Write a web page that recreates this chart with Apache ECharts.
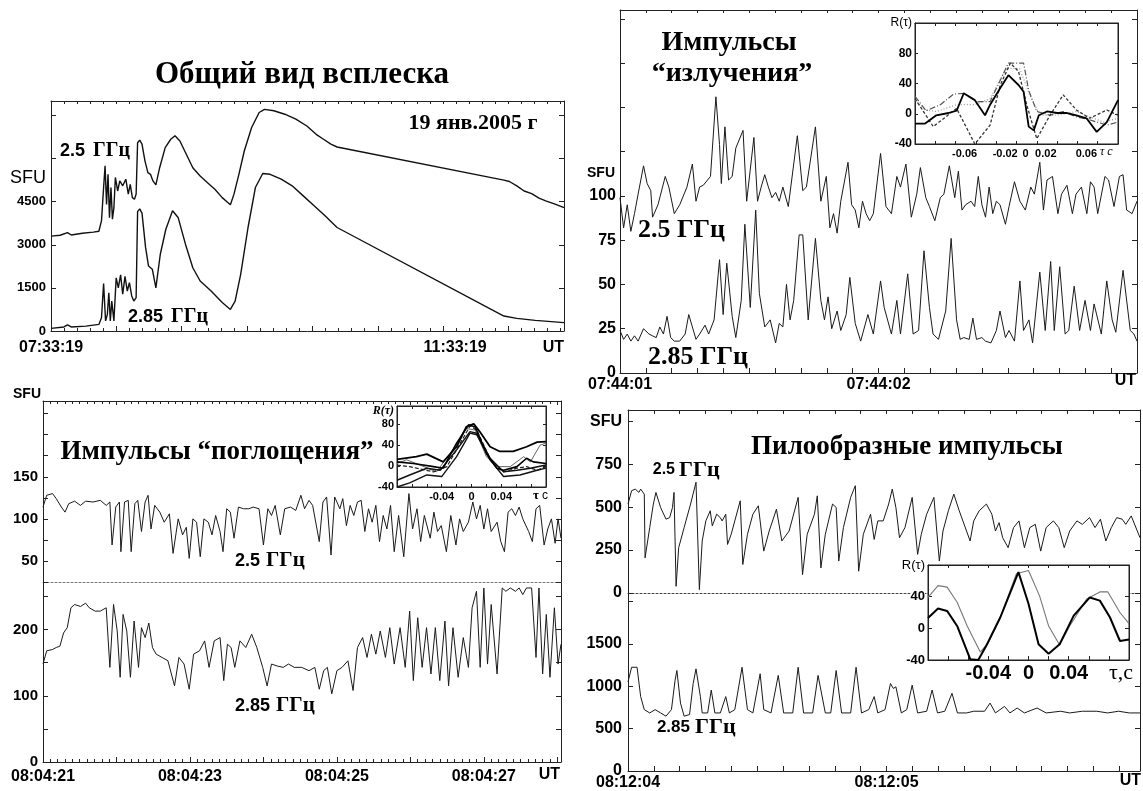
<!DOCTYPE html>
<html>
<head>
<meta charset="utf-8">
<title>Всплеск 19 янв. 2005</title>
<script src="https://cdn.jsdelivr.net/npm/echarts@6/dist/echarts.min.js"></script>
<style>
  html, body { margin: 0; padding: 0; background: #fff; }
  #main { width: 1143px; height: 791px; }
</style>
</head>
<body>
<div id="main"></div>
<script>
// ---- panel 1: general view, minutes after 07:33:19, SFU ----
const burst25 = [[0,3300],[5.6,3330],[10.1,3420],[12.4,3340],[19.2,3400],[25.9,3440],[29.3,3470],[30.9,3830],[32.2,4990],[33.1,5750],[34.0,4400],[34.9,5450],[35.8,3940],[36.7,4990],[37.6,3890],[38.5,4290],[39.4,5340],[40.8,4870],[42.1,5220],[43.9,5050],[45.8,5280],[47.3,4760],[48.5,5100],[49.8,4640],[51.1,4580],[52.1,4760],[53.0,6550],[54.3,6640],[55.7,6500],[57.5,5920],[59.3,5510],[60.9,5450],[62.4,5220],[64.2,5080],[66.5,5680],[69.9,6380],[73.3,6670],[75.9,6790],[78.9,6610],[82.3,6210],[86.8,5680],[91.3,5390],[95.8,5160],[100.3,4930],[104.8,4640],[108.2,4470],[109.8,4390],[112.0,4760],[115.0,5450],[118.3,6260],[122.8,7080],[127.4,7600],[130.7,7710],[136.4,7660],[143.1,7540],[149.9,7370],[156.6,7130],[162.3,6840],[166.8,6670],[171.3,6500],[175.1,6400],[277.2,5250],[280.6,5200],[285.1,5050],[289.6,4870],[294.2,4780],[298.7,4620],[303.2,4520],[307.7,4430],[314.0,4290]];
const burst285 = [[0,90],[7.9,140],[10.1,210],[12.4,140],[21.4,170],[29.3,230],[30.9,460],[32.2,1650],[33.4,350],[34.5,580],[35.4,1330],[36.3,350],[37.2,1040],[38.5,350],[39.9,1850],[41.2,1500],[42.6,1950],[43.9,1280],[45.3,1900],[46.7,1390],[48.0,1680],[49.4,1220],[50.7,1040],[52.1,1160],[53.0,4150],[54.3,4250],[55.7,4100],[57.9,2900],[59.7,2260],[62.0,2150],[64.2,1500],[66.9,2670],[70.3,3540],[74.4,4180],[77.8,3950],[82.3,3020],[86.8,2200],[91.3,1740],[98.0,1390],[104.8,990],[109.8,750],[112.7,1040],[116.1,1970],[120.6,3600],[125.1,4990],[129.6,5480],[134.1,5450],[140.9,5280],[147.6,5050],[154.4,4700],[161.2,4350],[167.9,4000],[175.1,3600],[277.2,520],[285.1,440],[296.4,370],[314.0,290]];
const burstTimeTicks = [[0,'07:33:19'],[240,'{s|11:33:19}']];
const burstFluxTicks = [[0,'0'],[1500,'1500'],[3000,'3000'],[4500,'4500']];

// ---- panel 2: emission pulses, seconds after 07:44:01 ----
const emission25 = [[0,99],[0.014,82],[0.028,95],[0.042,80],[0.056,90],[0.070,101],[0.091,117],[0.105,107],[0.119,103],[0.126,88],[0.147,95],[0.175,111],[0.189,105],[0.210,90],[0.231,95],[0.259,105],[0.280,118],[0.294,97],[0.308,105],[0.322,106],[0.350,111],[0.371,156],[0.385,129],[0.392,107],[0.406,139],[0.420,109],[0.434,111],[0.448,127],[0.476,137],[0.490,97],[0.518,133],[0.532,97],[0.546,105],[0.560,112],[0.574,105],[0.588,99],[0.602,102],[0.616,97],[0.630,105],[0.651,94],[0.686,134],[0.707,103],[0.721,105],[0.756,139],[0.777,97],[0.798,111],[0.812,82],[0.826,90],[0.840,79],[0.854,97],[0.882,119],[0.896,95],[0.910,92],[0.924,82],[0.938,97],[0.952,90],[0.966,86],[0.980,90],[1.008,124],[1.029,94],[1.050,90],[1.071,111],[1.085,105],[1.106,118],[1.127,88],[1.148,101],[1.162,116],[1.183,99],[1.197,94],[1.218,86],[1.239,99],[1.253,101],[1.274,117],[1.295,99],[1.309,114],[1.323,92],[1.337,95],[1.358,97],[1.372,94],[1.386,111],[1.400,95],[1.414,88],[1.428,105],[1.442,90],[1.456,97],[1.470,95],[1.491,84],[1.505,94],[1.526,108],[1.547,97],[1.568,92],[1.589,105],[1.603,101],[1.624,119],[1.638,92],[1.652,109],[1.673,111],[1.694,90],[1.708,101],[1.729,106],[1.750,90],[1.764,101],[1.785,105],[1.806,90],[1.820,108],[1.834,105],[1.848,90],[1.876,111],[1.890,109],[1.911,94],[1.932,111],[1.946,112],[1.960,92],[1.981,90],[2.000,97]];
const emission285 = [[0,24],[0.014,19],[0.028,22],[0.042,18],[0.056,21],[0.070,18],[0.091,25],[0.112,22],[0.126,21],[0.140,20],[0.154,26],[0.168,22],[0.182,32],[0.196,20],[0.210,18],[0.231,18],[0.252,22],[0.266,33],[0.280,26],[0.294,19],[0.308,22],[0.329,27],[0.343,22],[0.364,30],[0.385,64],[0.399,33],[0.413,62],[0.434,32],[0.448,20],[0.469,41],[0.483,84],[0.504,37],[0.525,92],[0.539,45],[0.560,26],[0.581,30],[0.602,17],[0.616,28],[0.630,26],[0.644,50],[0.658,30],[0.672,41],[0.693,78],[0.707,78],[0.728,30],[0.756,76],[0.777,41],[0.791,30],[0.805,43],[0.819,25],[0.840,35],[0.854,24],[0.875,33],[0.889,54],[0.910,28],[0.931,18],[0.959,33],[0.980,22],[1.008,52],[1.022,37],[1.050,22],[1.071,41],[1.085,22],[1.113,56],[1.134,22],[1.155,24],[1.176,69],[1.197,37],[1.211,22],[1.232,19],[1.260,35],[1.281,76],[1.302,30],[1.316,19],[1.330,20],[1.351,19],[1.365,31],[1.379,19],[1.400,20],[1.414,18],[1.435,17],[1.456,24],[1.470,35],[1.491,20],[1.505,24],[1.526,18],[1.547,52],[1.561,24],[1.582,30],[1.596,17],[1.624,57],[1.645,24],[1.666,63],[1.680,24],[1.701,60],[1.722,22],[1.736,24],[1.757,49],[1.778,24],[1.799,41],[1.820,24],[1.834,39],[1.862,22],[1.883,52],[1.904,30],[1.918,23],[1.946,58],[1.974,24],[1.988,22],[2.000,18]];
const emissionTimeTicks = [[0,'07:44:01'],[1,'07:44:02']];
const emissionFluxTicks = [[0,'0'],[25,'25'],[50,'50'],[75,'75'],[100,'100']];
// inset: correlation R(tau), tau in s
const emissionCorrSolid = [[-0.100,-13],[-0.090,-13],[-0.079,-2],[-0.067,1],[-0.059,4],[-0.052,27],[-0.041,18],[-0.031,-2],[-0.026,12],[-0.016,34],[-0.008,51],[0.002,38],[0.007,29],[0.012,-17],[0.017,-22],[0.022,-2],[0.030,3],[0.040,1],[0.049,1],[0.059,-2],[0.069,-6],[0.079,-24],[0.089,-11],[0.100,18]];
const emissionCorrDashed = [[-0.100,20],[-0.082,-17],[-0.059,7],[-0.041,-40],[-0.026,-15],[-0.016,38],[-0.006,67],[0.002,56],[0.010,12],[0.020,-33],[0.033,-2],[0.046,25],[0.059,5],[0.072,-6],[0.089,5],[0.100,-2]];
const emissionCorrDashDot = [[-0.100,23],[-0.089,4],[-0.075,12],[-0.062,26],[-0.052,27],[-0.039,16],[-0.026,16],[-0.008,67],[0.007,67],[0.012,31],[0.020,3],[0.033,-2],[0.046,3],[0.059,-4],[0.072,-8],[0.089,-15],[0.100,-11]];
const emissionCorrDotted = [[-0.100,18],[-0.090,5],[-0.079,3],[-0.059,12],[-0.041,12],[-0.026,20],[-0.010,60],[0.003,60],[0.013,25],[0.023,-2],[0.040,-2],[0.059,3],[0.072,-4],[0.086,-11],[0.100,-6]];
const emissionLagTicks = [[-0.06,'{s|-0.06}'],[-0.02,'{s|-0.02}'],[0,'{s|0}'],[0.02,'{s|0.02}'],[0.06,'{s|0.06}']];
const emissionCorrTicks = [[-40,'-40'],[0,'0'],[40,'40'],[80,'80'],[120,'{r|R(τ)}']];

// ---- panel 3: absorption pulses, seconds after 08:04:21 ----
const absorption25 = [[0.00,114],[0.05,128],[0.13,130],[0.18,124],[0.25,114],[0.30,108],[0.35,118],[0.43,121],[0.51,116],[0.58,121],[0.68,120],[0.78,122],[0.86,116],[0.91,120],[0.94,69],[0.99,114],[1.04,120],[1.06,61],[1.11,120],[1.16,122],[1.20,61],[1.25,118],[1.29,122],[1.34,85],[1.39,120],[1.43,128],[1.47,88],[1.52,116],[1.59,108],[1.65,96],[1.72,106],[1.77,59],[1.84,100],[1.90,81],[1.95,90],[1.99,53],[2.04,100],[2.09,96],[2.14,55],[2.19,100],[2.25,96],[2.30,81],[2.35,104],[2.41,85],[2.45,61],[2.50,112],[2.55,108],[2.60,77],[2.66,114],[2.73,112],[2.80,112],[2.86,114],[2.94,112],[3.00,69],[3.06,112],[3.11,104],[3.16,116],[3.23,81],[3.29,112],[3.37,114],[3.44,110],[3.51,128],[3.56,112],[3.62,122],[3.67,116],[3.76,73],[3.81,120],[3.86,126],[3.92,57],[3.97,126],[4.04,112],[4.08,124],[4.13,92],[4.18,116],[4.23,104],[4.28,120],[4.33,122],[4.38,85],[4.43,112],[4.48,96],[4.53,116],[4.58,73],[4.63,104],[4.68,88],[4.73,116],[4.78,61],[4.84,104],[4.91,55],[4.98,130],[5.03,88],[5.09,112],[5.14,73],[5.19,104],[5.27,77],[5.32,108],[5.37,85],[5.42,92],[5.49,61],[5.55,104],[5.62,69],[5.67,100],[5.72,85],[5.79,96],[5.85,120],[5.90,100],[5.95,116],[6.00,88],[6.05,112],[6.10,85],[6.18,96],[6.23,73],[6.28,61],[6.33,108],[6.38,112],[6.43,104],[6.48,114],[6.53,100],[6.61,85],[6.66,73],[6.71,112],[6.76,116],[6.82,69],[6.87,88],[6.92,100],[6.97,71],[7.01,100],[7.05,77]];
const absorption285 = [[0.00,148],[0.05,168],[0.13,170],[0.18,173],[0.23,175],[0.28,195],[0.33,203],[0.38,233],[0.43,238],[0.51,235],[0.58,240],[0.63,233],[0.71,228],[0.78,228],[0.86,233],[0.91,143],[0.96,238],[1.01,198],[1.05,128],[1.09,223],[1.14,198],[1.19,128],[1.24,213],[1.30,143],[1.34,203],[1.39,188],[1.44,210],[1.49,173],[1.54,163],[1.62,158],[1.70,153],[1.79,115],[1.85,158],[1.92,148],[1.99,110],[2.05,163],[2.13,168],[2.20,183],[2.26,143],[2.33,183],[2.41,188],[2.46,123],[2.51,178],[2.56,173],[2.61,143],[2.68,183],[2.76,173],[2.84,193],[2.91,173],[2.99,143],[3.05,115],[3.11,148],[3.19,145],[3.27,143],[3.34,148],[3.42,143],[3.52,143],[3.62,138],[3.70,143],[3.76,110],[3.82,138],[3.87,143],[3.93,103],[4.00,138],[4.07,143],[4.15,153],[4.22,108],[4.28,173],[4.35,188],[4.41,158],[4.47,193],[4.53,163],[4.59,198],[4.66,158],[4.72,203],[4.78,148],[4.86,203],[4.93,143],[4.99,228],[5.04,123],[5.10,218],[5.16,143],[5.22,203],[5.28,133],[5.34,203],[5.40,123],[5.47,213],[5.52,115],[5.58,203],[5.65,128],[5.72,188],[5.79,143],[5.84,233],[5.90,258],[5.95,143],[6.00,263],[6.05,148],[6.10,238],[6.18,133],[6.25,263],[6.30,258],[6.36,263],[6.43,258],[6.48,263],[6.53,253],[6.58,263],[6.65,263],[6.71,158],[6.75,263],[6.80,133],[6.85,223],[6.90,128],[6.96,233],[7.01,148],[7.05,178]];
const absorptionTimeTicks = [[0,'08:04:21'],[2,'08:04:23'],[4,'08:04:25'],[6,'08:04:27']];
const absorptionFluxTicks25 = [[50,'50'],[100,'100'],[150,'150']];
const absorptionFluxTicks285 = [[0,'0'],[100,'100'],[200,'200']];
const absorptionCorr1 = [[-0.100,13],[-0.074,18],[-0.060,23],[-0.038,8],[-0.020,37],[-0.007,75],[0.003,81],[0.011,66],[0.025,37],[0.038,28],[0.056,28],[0.074,37],[0.088,46],[0.100,47]];
const absorptionCorr2 = [[-0.100,8],[-0.078,5],[-0.051,-1],[-0.038,-4],[-0.020,44],[-0.004,79],[0.005,75],[0.020,24],[0.034,-4],[0.043,-8],[0.061,-1],[0.074,15],[0.083,8],[0.100,5]];
const absorptionCorr3 = [[-0.100,-27],[-0.083,-17],[-0.060,-4],[-0.042,-8],[-0.020,31],[-0.002,66],[0.007,63],[0.025,15],[0.043,-11],[0.061,-8],[0.079,-4],[0.100,2]];
const absorptionCorr4 = [[-0.100,-40],[-0.083,-32],[-0.060,-17],[-0.040,-20],[-0.020,18],[-0.002,63],[0.007,60],[0.025,12],[0.043,-20],[0.065,-17],[0.088,-8],[0.100,-4]];
const absorptionCorr5 = [[-0.100,5],[-0.087,12],[-0.069,2],[-0.047,-11],[-0.024,34],[-0.007,72],[0.005,69],[0.020,18],[0.034,-1],[0.052,-1],[0.070,18],[0.079,8],[0.092,40],[0.100,44]];
const absorptionCorr6 = [[-0.100,2],[-0.083,-1],[-0.051,-11],[-0.033,-1],[-0.015,44],[-0.002,77],[0.007,69],[0.027,8],[0.043,-11],[0.061,-4],[0.074,-1],[0.088,-8],[0.100,-1]];
const absorptionLagTicks = [[-0.04,'-0.04'],[0,'0'],[0.04,'0.04']];
const absorptionCorrTicks = [[-40,'-40'],[0,'0'],[40,'40'],[80,'80']];

// ---- panel 4: sawtooth pulses, seconds after 08:12:04 ----
const sawtooth25 = [[0.000,518],[0.014,596],[0.028,605],[0.042,586],[0.049,605],[0.063,576],[0.066,205],[0.084,381],[0.098,518],[0.108,586],[0.126,498],[0.147,430],[0.161,439],[0.172,498],[0.178,586],[0.186,39],[0.196,264],[0.217,381],[0.242,518],[0.263,645],[0.276,20],[0.287,303],[0.301,420],[0.318,479],[0.326,391],[0.343,459],[0.357,439],[0.364,420],[0.378,459],[0.385,283],[0.399,342],[0.413,420],[0.434,537],[0.444,166],[0.462,342],[0.483,459],[0.504,508],[0.525,244],[0.546,361],[0.574,488],[0.595,303],[0.623,361],[0.658,557],[0.675,107],[0.693,342],[0.721,459],[0.732,566],[0.746,146],[0.763,342],[0.791,518],[0.805,498],[0.815,186],[0.833,381],[0.861,557],[0.879,625],[0.892,127],[0.910,342],[0.938,459],[0.952,312],[0.966,420],[0.987,420],[1.008,518],[1.022,605],[1.036,498],[1.050,322],[1.071,381],[1.099,557],[1.120,225],[1.134,342],[1.155,459],[1.183,557],[1.204,186],[1.218,361],[1.239,479],[1.260,576],[1.281,479],[1.323,303],[1.337,420],[1.358,479],[1.386,518],[1.407,459],[1.421,361],[1.435,410],[1.449,322],[1.470,264],[1.491,381],[1.512,420],[1.533,264],[1.554,381],[1.575,400],[1.596,244],[1.617,381],[1.645,420],[1.666,381],[1.687,264],[1.708,361],[1.736,420],[1.757,400],[1.785,439],[1.806,381],[1.827,430],[1.848,303],[1.869,381],[1.890,439],[1.911,430],[1.925,400],[1.946,449],[1.980,322]];
const sawtooth285 = [[0.000,1051],[0.014,1224],[0.035,1224],[0.049,878],[0.063,724],[0.084,685],[0.105,724],[0.126,685],[0.147,647],[0.168,724],[0.182,1070],[0.189,1186],[0.203,801],[0.217,647],[0.238,666],[0.252,1032],[0.263,1205],[0.280,878],[0.287,685],[0.308,685],[0.322,955],[0.336,685],[0.357,685],[0.378,878],[0.392,685],[0.413,724],[0.441,1224],[0.462,724],[0.483,685],[0.511,1147],[0.525,724],[0.553,685],[0.581,1128],[0.602,685],[0.637,685],[0.658,1224],[0.679,685],[0.714,685],[0.735,1128],[0.763,685],[0.784,685],[0.805,1186],[0.826,685],[0.861,685],[0.882,1224],[0.903,685],[0.931,724],[0.952,878],[0.966,685],[0.994,724],[1.015,1032],[1.026,974],[1.036,993],[1.057,685],[1.078,724],[1.099,1013],[1.120,685],[1.155,705],[1.176,955],[1.197,685],[1.225,705],[1.253,916],[1.274,685],[1.309,685],[1.337,705],[1.379,705],[1.400,801],[1.421,685],[1.456,762],[1.477,685],[1.505,743],[1.533,685],[1.582,743],[1.617,685],[1.673,705],[1.708,685],[1.757,705],[1.813,705],[1.855,685],[1.897,705],[1.939,685],[1.980,685]];
const sawtoothTimeTicks = [[0,'08:12:04'],[1,'08:12:05']];
const sawtoothFluxTicks25 = [[0,'0'],[250,'250'],[500,'500'],[750,'750'],[1000,'SFU']];
const sawtoothFluxTicks285 = [[0,'0'],[500,'500'],[1000,'1000'],[1500,'1500']];
const sawtoothCorrThick = [[-0.100,13],[-0.090,25],[-0.081,22],[-0.071,3],[-0.058,-39],[-0.050,-40],[-0.042,-22],[-0.028,14],[-0.010,71],[0.000,31],[0.010,-20],[0.020,-32],[0.031,-20],[0.045,16],[0.061,39],[0.071,35],[0.081,14],[0.091,-16],[0.100,-14]];
const sawtoothCorrThin = [[-0.100,39],[-0.090,54],[-0.081,52],[-0.071,33],[-0.061,3],[-0.048,-30],[-0.040,-18],[-0.028,14],[-0.012,69],[0.000,73],[0.011,41],[0.020,3],[0.031,-21],[0.041,3],[0.058,37],[0.071,46],[0.079,46],[0.091,20],[0.100,6]];
const sawtoothLagTicks = [[-0.04,'-0.04'],[0,'0'],[0.04,'0.04']];
const sawtoothCorrTicks = [[-40,'-40'],[0,'0'],[40,'40'],[80,'{r|R(τ)}']];

const SANS = 'Liberation Sans';
const SERIF = 'Liberation Serif';
const FRAME = '#222';
const INK = '#111';

function pick(pairs) {
  return function (v) {
    for (let i = 0; i < pairs.length; i++) {
      if (Math.abs(v - pairs[i][0]) < 1e-6) return pairs[i][1];
    }
    return '';
  };
}

const grids = [], xAxes = [], yAxes = [], series = [];

function addGrid(left, top, width, height, inset) {
  grids.push(inset
    ? { left, top, width, height, show: true, backgroundColor: '#fff', borderColor: FRAME, borderWidth: 1, z: 10, outerBoundsMode: 'none' }
    : { left, top, width, height, show: false, outerBoundsMode: 'none' });
  return grids.length - 1;
}

function axis(gridIndex, position, min, max, interval, o) {
  o = o || {};
  const ax = {
    type: 'value', gridIndex, position, min, max, interval,
    z: o.z || 0,
    axisLine: { show: true, onZero: false, lineStyle: { color: o.lineColor || FRAME, width: 1, type: o.lineType || 'solid' } },
    axisTick: { show: o.ticks !== false, inside: true, length: o.tickLen || 5, lineStyle: { color: FRAME } },
    minorTick: { show: !!o.minor, splitNumber: o.minor || 5, length: 3, lineStyle: { color: FRAME } },
    splitLine: { show: false },
    axisLabel: { show: false }
  };
  if (o.labels) {
    const size = o.fontSize || 14;
    ax.axisLabel = {
      show: true, formatter: pick(o.labels), color: '#000',
      fontFamily: SANS, fontWeight: 'bold', fontSize: size,
      margin: o.margin == null ? 6 : o.margin,
      showMinLabel: true, showMaxLabel: true,
      rich: {
        r: { fontFamily: SANS, fontWeight: 'normal', fontSize: o.richSize || 12, color: '#000' },
        s: { fontFamily: SANS, fontWeight: 'bold', fontSize: size, color: '#000', padding: [0, 0, 0, o.shift || 0] }
      }
    };
    if (o.labelBg) ax.axisLabel.backgroundColor = '#fff';
  }
  return ax;
}
function addX(ax) { xAxes.push(ax); return xAxes.length - 1; }
function addY(ax) { yAxes.push(ax); return yAxes.length - 1; }

function addLine(xi, yi, data, color, width, type, z) {
  const s = {
    type: 'line', xAxisIndex: xi, yAxisIndex: yi, data: data,
    symbol: 'none', showSymbol: false, silent: true, z: z || 2,
    lineStyle: { color: color, width: width, type: type || 'solid' }
  };
  series.push(s);
  return s;
}

// panel 1
const g1 = addGrid(51, 101, 513, 230);
const x1 = addX(axis(g1, 'bottom', 0, 314, 40, { minor: 5, labels: burstTimeTicks, fontSize: 16, margin: 9, shift: 24 }));
addX(axis(g1, 'top', 0, 314, 40, { minor: 5, tickLen: 3 }));
const y1 = addY(axis(g1, 'left', 0, 8000, 1500, { labels: burstFluxTicks, fontSize: 13, margin: 5 }));
addY(axis(g1, 'right', 0, 8000, 1500, {}));
addLine(x1, y1, burst25, INK, 1.4);
addLine(x1, y1, burst285, INK, 1.4);

// panel 2
const g2 = addGrid(620, 10, 517, 363);
const x2 = addX(axis(g2, 'bottom', 0, 2, 0.1, { labels: emissionTimeTicks, fontSize: 16, margin: 4 }));
addX(axis(g2, 'top', 0, 2, 0.1, { tickLen: 3 }));
const y2 = addY(axis(g2, 'left', 0, 205, 25, { labels: emissionFluxTicks, fontSize: 16, margin: 4 }));
addY(axis(g2, 'right', 0, 205, 25, {}));
addLine(x2, y2, emission25, '#1a1a1a', 1);
addLine(x2, y2, emission285, '#1a1a1a', 1);

// inset of panel 2
const g2i = addGrid(915, 23, 203, 121, true);
const x2i = addX(axis(g2i, 'bottom', -0.1, 0.1, 0.02, { z: 11, tickLen: 3, labels: emissionLagTicks, fontSize: 11, margin: 4, shift: 18 }));
addX(axis(g2i, 'top', -0.1, 0.1, 0.02, { z: 11, tickLen: 3 }));
const y2i = addY(axis(g2i, 'left', -40, 120, 40, { z: 11, tickLen: 3, labels: emissionCorrTicks, fontSize: 12, margin: 3, richSize: 12 }));
addY(axis(g2i, 'right', -40, 120, 40, { z: 11, tickLen: 3 }));
addLine(x2i, y2i, emissionCorrDotted, '#999', 1.2, [1, 2], 12);
addLine(x2i, y2i, emissionCorrDashDot, '#555', 1.2, [6, 2, 1, 2], 12);
addLine(x2i, y2i, emissionCorrDashed, '#333', 1.3, [3, 2], 12);
addLine(x2i, y2i, emissionCorrSolid, '#000', 1.8, 'solid', 12);

// panel 3 (upper half: 2.5 GHz, lower half: 2.85 GHz)
const g3a = addGrid(43, 401, 518, 181);
addX(axis(g3a, 'top', 0, 7.05, 1, { minor: 10, tickLen: 4 }));
const x3a = addX(axis(g3a, 'bottom', 0, 7.05, 1, { ticks: false, lineType: [2, 2], lineColor: '#777' }));
const y3a = addY(axis(g3a, 'left', 25, 240, 25, { labels: absorptionFluxTicks25, fontSize: 15, margin: 5 }));
addY(axis(g3a, 'right', 25, 240, 25, {}));
addLine(x3a, y3a, absorption25, '#1a1a1a', 1);

const g3b = addGrid(43, 582, 518, 180);
const x3b = addX(axis(g3b, 'bottom', 0, 7.05, 1, { minor: 10, labels: absorptionTimeTicks, fontSize: 16, margin: 7 }));
const y3b = addY(axis(g3b, 'left', 0, 272, 50, { labels: absorptionFluxTicks285, fontSize: 15, margin: 5 }));
addY(axis(g3b, 'right', 0, 272, 50, {}));
addLine(x3b, y3b, absorption285, '#1a1a1a', 1);

// inset of panel 3
const g3i = addGrid(397, 406, 149, 81, true);
const x3i = addX(axis(g3i, 'bottom', -0.1, 0.1, 0.02, { z: 11, tickLen: 3, labels: absorptionLagTicks, fontSize: 11, margin: 4 }));
addX(axis(g3i, 'top', -0.1, 0.1, 0.02, { z: 11, tickLen: 3 }));
const y3i = addY(axis(g3i, 'left', -40, 115, 40, { z: 11, tickLen: 3, labels: absorptionCorrTicks, fontSize: 11, margin: 3 }));
addY(axis(g3i, 'right', -40, 115, 40, { z: 11, tickLen: 3 }));
const axes3 = addLine(x3i, y3i, absorptionCorr5, '#666', 1, 'solid', 12);
axes3.markLine = {
  silent: true, symbol: 'none', animation: false, label: { show: false },
  lineStyle: { color: '#000', width: 1.5, type: 'solid' },
  data: [{ yAxis: 0 }, { xAxis: 0 }]
};
addLine(x3i, y3i, absorptionCorr6, '#222', 1.2, [4, 2], 12);
addLine(x3i, y3i, absorptionCorr4, '#111', 1.4, 'solid', 12);
addLine(x3i, y3i, absorptionCorr3, '#111', 1.5, 'solid', 12);
addLine(x3i, y3i, absorptionCorr2, '#000', 1.6, 'solid', 12);
addLine(x3i, y3i, absorptionCorr1, '#000', 1.8, 'solid', 12);

// panel 4 (upper half: 2.5 GHz, lower half: 2.85 GHz)
const g4a = addGrid(628, 410, 512, 183);
addX(axis(g4a, 'top', 0, 1.98, 0.1, { tickLen: 4 }));
const x4a = addX(axis(g4a, 'bottom', 0, 1.98, 0.1, { ticks: false, lineType: [2, 2], lineColor: '#444' }));
const y4a = addY(axis(g4a, 'left', 0, 1066, 250, { labels: sawtoothFluxTicks25, fontSize: 16, margin: 6 }));
addY(axis(g4a, 'right', 0, 1066, 250, {}));
addLine(x4a, y4a, sawtooth25, '#1a1a1a', 1);

const g4b = addGrid(628, 593, 512, 178);
const x4b = addX(axis(g4b, 'bottom', 0, 1.98, 0.1, { labels: sawtoothTimeTicks, fontSize: 16, margin: 4 }));
const y4b = addY(axis(g4b, 'left', 0, 2100, 500, { labels: sawtoothFluxTicks285, fontSize: 16, margin: 6 }));
addY(axis(g4b, 'right', 0, 2100, 500, {}));
addLine(x4b, y4b, sawtooth285, '#1a1a1a', 1);

// inset of panel 4
const g4i = addGrid(928, 565, 201, 95, true);
const x4i = addX(axis(g4i, 'bottom', -0.1, 0.1, 0.02, { z: 11, tickLen: 4, labels: sawtoothLagTicks, fontSize: 20, margin: 3 }));
addX(axis(g4i, 'top', -0.1, 0.1, 0.02, { z: 11, tickLen: 3 }));
const y4i = addY(axis(g4i, 'left', -40, 80, 40, { z: 11, tickLen: 4, labels: sawtoothCorrTicks, fontSize: 13, margin: 3, richSize: 13, labelBg: true }));
addY(axis(g4i, 'right', -40, 80, 40, { z: 11, tickLen: 4 }));
const thin4 = addLine(x4i, y4i, sawtoothCorrThin, '#777', 1.1, 'solid', 12);
thin4.markLine = {
  silent: true, symbol: 'none', animation: false, label: { show: false },
  lineStyle: { color: '#000', width: 1, type: 'solid' },
  data: [{ xAxis: 0 }]
};
addLine(x4i, y4i, sawtoothCorrThick, '#000', 2, 'solid', 12);

// texts
function txt(x, y, text, font, align) {
  return {
    type: 'text', x: x, y: y, z: 50, silent: true,
    style: { text: text, font: font, textAlign: align || 'left', textVerticalAlign: 'middle', verticalAlign: 'middle', fill: '#000' }
  };
}
const B_SERIF = function (px) { return 'bold ' + px + 'px "' + SERIF + '"'; };
const B_SANS = function (px) { return 'bold ' + px + 'px "' + SANS + '"'; };

const texts = [
  // panel 1
  txt(302, 75, 'Общий вид всплеска', B_SERIF(31), 'center'),
  txt(473, 123, '19 янв.2005 г', B_SERIF(22), 'center'),
  txt(85, 151, '2.5', B_SANS(18), 'right'),
  txt(93, 151, 'ГГц', B_SERIF(20), 'left'),
  txt(163, 317, '2.85', B_SANS(18), 'right'),
  txt(171, 317, 'ГГц', B_SERIF(20), 'left'),
  txt(10, 178, 'SFU', '18px "' + SANS + '"', 'left'),
  txt(564, 348, 'UT', B_SANS(16), 'right'),
  // panel 2
  txt(729, 43, 'Импульсы', B_SERIF(28), 'center'),
  txt(732, 74, '“излучения”', B_SERIF(28), 'center'),
  txt(638, 230, '2.5 ГГц', B_SERIF(26), 'left'),
  txt(648, 357, '2.85 ГГц', B_SERIF(26), 'left'),
  txt(587, 173, 'SFU', B_SANS(14), 'left'),
  txt(1136, 381, 'UT', B_SANS(16), 'right'),
  txt(1100, 152, 'τ с', 'italic 12px "' + SERIF + '"', 'left'),
  // panel 3
  txt(13, 394, 'SFU', B_SANS(14), 'left'),
  txt(217, 452, 'Импульсы “поглощения”', B_SERIF(27), 'center'),
  txt(260, 561, '2.5', B_SANS(18), 'right'),
  txt(266, 561, 'ГГц', B_SERIF(21), 'left'),
  txt(270, 706, '2.85', B_SANS(18), 'right'),
  txt(276, 706, 'ГГц', B_SERIF(21), 'left'),
  txt(560, 775, 'UT', B_SANS(16), 'right'),
  txt(394, 411, 'R(τ)', 'bold italic 12px "' + SERIF + '"', 'right'),
  txt(533, 496, 'τ', B_SERIF(13), 'left'),
  txt(542, 496, 'c', '12px "' + SANS + '"', 'left'),
  // panel 4
  txt(907, 447, 'Пилообразные импульсы', B_SERIF(27), 'center'),
  txt(675, 470, '2.5', B_SANS(16), 'right'),
  txt(679, 470, 'ГГц', B_SERIF(22), 'left'),
  txt(690, 727, '2.85', B_SANS(17), 'right'),
  txt(695, 727, 'ГГц', B_SERIF(22), 'left'),
  txt(1141, 781, 'UT', B_SANS(16), 'right'),
  txt(1109, 673, 'τ,c', '22px "' + SERIF + '"', 'left')
];

const chart = echarts.init(document.getElementById('main'), null, { renderer: 'canvas' });
chart.setOption({
  animation: false,
  backgroundColor: '#fff',
  grid: grids,
  xAxis: xAxes,
  yAxis: yAxes,
  series: series,
  graphic: texts
});
</script>
</body>
</html>
